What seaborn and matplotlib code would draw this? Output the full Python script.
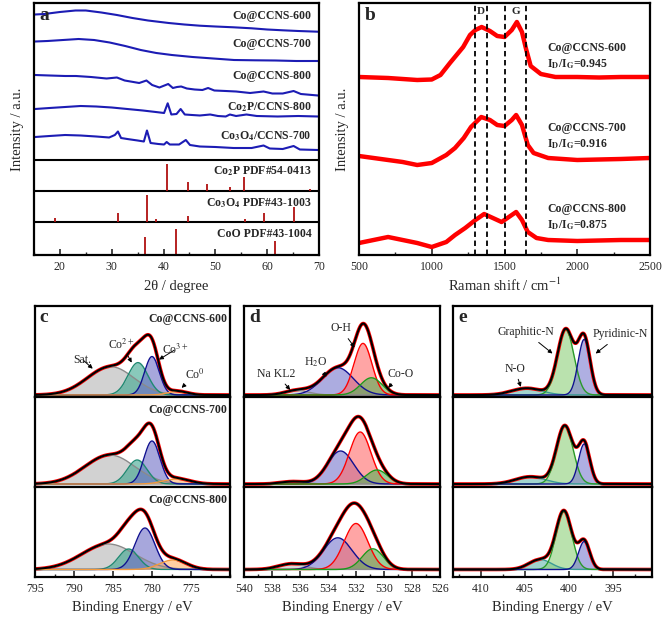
import numpy as np
import seaborn as sns
import matplotlib.pyplot as plt
from matplotlib.ticker import MultipleLocator, FixedLocator

# ---------------- panel a : XRD (2theta, stacked intensity / a.u.) ----------------
xrd_names = ['Co@CCNS-600', 'Co@CCNS-700', 'Co@CCNS-800',
             r'Co$_\mathbf{2}$P/CCNS-800', r'Co$_\mathbf{3}$O$_\mathbf{4}$/CCNS-700']
xrd_600_x = [15.2, 17, 20, 23, 25, 28, 31, 34, 37, 41, 44, 47, 50, 53.5, 57, 60, 63, 66, 69.8]
xrd_600_y = [240.5, 241, 243, 244.5, 244.5, 242.5, 240, 237, 234.5, 232, 230.5, 229.3, 228.5,
             227.7, 226.7, 225.5, 224.7, 224, 223.3]
xrd_700_x = [15.2, 17.6, 20.6, 23.6, 26.6, 29.6, 32.6, 35.6, 38.6, 41.6, 45.6, 49.6, 53.6,
             57.6, 61.6, 65.6, 69.8]
xrd_700_y = [213.5, 214, 215, 216, 215, 212.5, 209, 205, 202, 200, 198, 196.5, 195, 194.7,
             194.5, 194, 194]
xrd_800_x = [15.2, 18, 21, 23.1, 26, 29, 31, 32.5, 35.3, 36.7, 37.8, 39.2, 40.9, 41.8, 42.6,
             43.4, 44.5, 46, 47.5, 48.6, 49.8, 52, 54, 56.7, 59.3, 61, 63, 65.1, 66.5, 69.8]
xrd_800_y = [180, 179.5, 179, 179, 178, 176.5, 177.5, 174.5, 172, 174.5, 170, 167.5, 171, 167,
             168, 168.5, 166.5, 165.5, 165, 167, 164.5, 164, 163.5, 162, 163.5, 161.5, 161.5,
             164, 161, 159.5]
xrd_co2p_x = [15.2, 18, 21, 24, 27, 30, 33, 36, 38.5, 40.1, 40.8, 41.5, 42.5, 43.3, 44.1, 45.5,
              47, 49, 50.5, 52, 52.8, 54, 56, 58, 62, 66, 69.8]
xrd_co2p_y = [146, 147, 148, 149, 148.5, 147.5, 146, 144.5, 143, 142, 151.7, 140.5, 141, 146,
              140.5, 140, 139.5, 140.5, 139, 138.5, 140.5, 139, 140.5, 139, 138.5, 139, 138.5]
xrd_co3o4_x = [15.2, 18, 21, 24, 27, 29.5, 30.6, 31.2, 31.8, 33, 35, 36.2, 36.8, 37.5, 39, 40.1,
               40.6, 41.2, 43, 44.3, 45.1, 47, 50, 53.5, 57, 59.3, 60.5, 63, 65.1, 66.3, 69.8]
xrd_co3o4_y = [118, 119, 120, 119.5, 118.5, 117.5, 120, 123.5, 117, 116, 114.5, 113.5, 124.5,
               112, 111, 110.5, 113, 110.5, 110.5, 115, 110, 108.5, 108, 107, 107, 109.5,
               106.5, 106, 109, 105.5, 105]

# standard cards: 2theta and relative intensity (%)
ref_names = [r'Co$_\mathbf{2}$P PDF#54-0413', r'Co$_\mathbf{3}$O$_\mathbf{4}$ PDF#43-1003',
             'CoO PDF#43-1004']
co2p_pos = [40.7, 44.8, 48.4, 52.9, 55.6, 68.2]
co2p_int = [87, 28, 24, 14, 44, 6]
co3o4_pos = [19.0, 31.3, 36.8, 38.5, 44.8, 55.7, 59.4, 65.2]
co3o4_int = [12, 30, 86, 10, 18, 9, 29, 48]
coo_pos = [36.5, 42.4, 61.5]
coo_int = [58, 85, 46]

# ---------------- panel b : Raman (cm-1, stacked intensity / a.u.) ----------------
raman_names = ['Co@CCNS-600', 'Co@CCNS-700', 'Co@CCNS-800']
raman_ratio = ['0.945', '0.916', '0.875']
raman_600_x = [500, 600, 700, 800, 900, 1000, 1060, 1125, 1216, 1263, 1300, 1343, 1400, 1450,
               1500, 1550, 1585, 1620, 1650, 1680, 1750, 1850, 2000, 2150, 2300, 2500]
raman_600_y = [178, 177.5, 177, 176, 175, 175.5, 180, 192, 208, 220, 225, 228, 224, 219, 218,
               225, 233, 223, 205, 189, 181, 178, 178, 177.5, 178, 178]
raman_700_x = [500, 600, 700, 800, 900, 1000, 1100, 1160, 1220, 1270, 1340, 1400, 1450, 1500,
               1550, 1580, 1620, 1660, 1700, 1800, 2000, 2150, 2300, 2500]
raman_700_y = [99, 97, 95, 93, 90, 92, 100, 107, 117, 128, 138, 135, 130, 129, 135, 140, 130,
               110, 102, 97, 95, 95.5, 96, 97]
raman_800_x = [500, 600, 700, 800, 900, 1000, 1100, 1160, 1230, 1300, 1360, 1420, 1480, 1530,
               1580, 1620, 1660, 1720, 1800, 2000, 2150, 2300, 2500]
raman_800_y = [12, 15, 18, 15, 12, 8, 13, 20, 27, 35, 41, 37, 33, 38, 43, 35, 23, 17, 15, 14,
               14.5, 15, 15]
band_lines = [1300, 1380, 1500, 1650]

# ---------------- panels c-e : XPS fitted components (centre, height, FWHM) ----------------
xps_samples = ['Co@CCNS-600', 'Co@CCNS-700', 'Co@CCNS-800']
xps_base = [2, 3, 7.5]

co_center = [[785.3, 781.8, 780.0, 776.7], [785.4, 781.9, 780.0, 776.8], [785.6, 783.0, 780.9, 777.3]]
co_height = [[28, 32, 38, 3.5], [29, 24, 43, 5], [25.5, 20.5, 41.5, 9.5]]
co_fwhm = [[7, 3, 2.2, 3], [7.5, 3, 2.4, 4], [8, 3, 3, 4]]

o_center = [[536.2, 533.3, 531.5, 530.9], [536.5, 533.1, 531.7, 530.5], [536.6, 533.3, 532.0, 530.8]]
o_height = [[4.5, 27, 51, 17], [2.5, 33, 52, 14], [5.7, 31.7, 46, 20.7]]
o_fwhm = [[2, 2.6, 1.5, 1.8], [2, 2.2, 1.8, 1.8], [2.2, 2.4, 2.0, 1.8]]

n_center = [[404.8, 400.4, 398.3], [404.4, 400.5, 398.3], [403.3, 400.6, 398.3]]
n_height = [[6.7, 65, 55], [7.3, 58, 40], [10, 58, 28]]
n_fwhm = [[4, 2.2, 1.6], [4, 2.2, 1.5], [3, 2.1, 1.5]]

# ---------------- style ----------------
sns.set_theme(style='ticks')
plt.rcParams['font.family'] = ['Liberation Serif', 'DejaVu Serif']
plt.rcParams['mathtext.fontset'] = 'stix'
plt.rcParams['axes.linewidth'] = 1.6
plt.rcParams['xtick.direction'] = 'in'
plt.rcParams['xtick.major.width'] = 1.2
plt.rcParams['xtick.minor.width'] = 1.0

W, H = 663, 621
fig = plt.figure(figsize=(W / 100, H / 100), dpi=100)


def rect(x0, y0, x1, y1):
    return [x0 / W, 1 - y1 / H, (x1 - x0) / W, (y1 - y0) / H]


def style_ax(ax, labels=True):
    ax.set_yticks([])
    ax.tick_params(axis='x', which='major', length=4, labelsize=8.5, pad=4,
                   bottom=True, labelbottom=labels)
    ax.tick_params(axis='x', which='minor', length=2, bottom=True)
    for s in ax.spines.values():
        s.set_color('black')
        s.set_linewidth(1.6)


bold = dict(fontsize=8.5, fontweight='bold')

# ---- panel a ----
axa = fig.add_axes(rect(34, 3, 319, 255))
xrd = [(xrd_600_x, xrd_600_y), (xrd_700_x, xrd_700_y), (xrd_800_x, xrd_800_y),
       (xrd_co2p_x, xrd_co2p_y), (xrd_co3o4_x, xrd_co3o4_y)]
label_y = [239, 211, 179, 148, 119]
for (xs, ys), name, ly in zip(xrd, xrd_names, label_y):
    sns.lineplot(x=xs, y=ys, ax=axa, color='#1c1cb4', lw=1.5)
    axa.text(68.6, ly, name, ha='right', va='center', **bold)
for yb in [33, 64, 95]:
    axa.axhline(yb, color='black', lw=1.5)
refs = [(co2p_pos, co2p_int, 64), (co3o4_pos, co3o4_int, 33), (coo_pos, coo_int, 0)]
ref_y = [84, 52, 21]
for (pos, inten, base), name, ly in zip(refs, ref_names, ref_y):
    axa.vlines(pos, base, [base + 0.31 * v for v in inten], color='#b01010', lw=1.3)
    axa.text(68.6, ly, name, ha='right', va='center', **bold)
axa.set_xlim(15, 70)
axa.set_ylim(0, 252)
axa.xaxis.set_major_locator(MultipleLocator(10))
axa.xaxis.set_minor_locator(MultipleLocator(5))
style_ax(axa)
axa.set_xlabel('2θ / degree', fontsize=10.5, labelpad=5)
axa.set_ylabel('Intensity / a.u.', fontsize=10.5)
axa.yaxis.set_label_coords(-0.035, 0.5)
axa.text(0.02, 0.985, 'a', transform=axa.transAxes, va='top', fontsize=14, fontweight='bold')

# ---- panel b ----
axb = fig.add_axes(rect(359, 3, 650, 255))
raman = [(raman_600_x, raman_600_y), (raman_700_x, raman_700_y), (raman_800_x, raman_800_y)]
name_y = [207, 127, 46]
for (xs, ys), name, r, ny in zip(raman, raman_names, raman_ratio, name_y):
    sns.lineplot(x=xs, y=ys, ax=axb, color='#ff0000', lw=3.2)
    axb.text(1792, ny, name, ha='left', va='center', **bold)
    axb.text(1792, ny - 16, r'I$_\mathbf{D}$/I$_\mathbf{G}$=' + r, ha='left', va='center', **bold)
for xv in band_lines:
    axb.axvline(xv, color='black', lw=1.3, ls=(0, (3, 2)))
axb.text(1340, 244, 'D', ha='center', va='center', fontsize=8, fontweight='bold')
axb.text(1575, 244, 'G', ha='center', va='center', fontsize=8, fontweight='bold')
axb.set_xlim(500, 2500)
axb.set_ylim(0, 252)
axb.xaxis.set_major_locator(MultipleLocator(500))
axb.xaxis.set_minor_locator(MultipleLocator(250))
style_ax(axb)
axb.set_xlabel('Raman shift / cm$^{-1}$', fontsize=10.5, labelpad=3)
axb.set_ylabel('Intensity / a.u.', fontsize=10.5)
axb.yaxis.set_label_coords(-0.034, 0.5)
axb.text(0.02, 0.985, 'b', transform=axb.transAxes, va='top', fontsize=14, fontweight='bold')


# ---- XPS panels ----
def gauss(x, c, h, w):
    return h * np.exp(-4 * np.log(2) * (x - c) ** 2 / w ** 2)


rows = [(306, 397), (397, 487), (487, 577)]
panels = [
    dict(x0=35, x1=230, lim=(795, 770), ticks=[795, 790, 785, 780, 775], minor=2.5, tag='c',
         cen=co_center, hei=co_height, fw=co_fwhm,
         fills=['#b4b4b4', '#3aa58e', '#6d6dc6', '#ffb266'],
         edges=['#8a8a8a', '#1f8a72', '#101090', '#f39a3c'], names=True),
    dict(x0=244, x1=440, lim=(540, 526), ticks=list(range(540, 525, -2)), minor=1, tag='d',
         cen=o_center, hei=o_height, fw=o_fwhm,
         fills=['#c2c2c2', '#7676cc', '#ff6a6a', '#55b055'],
         edges=['#8a8a8a', '#101090', '#ff0000', '#1a9a1a'], names=False),
    dict(x0=453, x1=652, lim=(413.2, 390.6), ticks=[410, 405, 400, 395], minor=2.5, tag='e',
         cen=n_center, hei=n_height, fw=n_fwhm,
         fills=['#62b8ae', '#8ccf78', '#7a7ad0'],
         edges=['#3a9a96', '#2a9a2a', '#101090'], names=False),
]
panel_axes = []
for p in panels:
    axs = []
    for i, (y0, y1) in enumerate(rows):
        ax = fig.add_axes(rect(p['x0'], y0, p['x1'], y1))
        xs = np.linspace(min(p['lim']), max(p['lim']), 700)
        comps = [gauss(xs, c, h, w) for c, h, w in zip(p['cen'][i], p['hei'][i], p['fw'][i])]
        base = xps_base[i]
        env = base + np.sum(comps, axis=0)
        sns.lineplot(x=xs, y=env, ax=ax, color='#ff0000', lw=2.6)
        for g, fc, ec in zip(comps, p['fills'], p['edges']):
            ax.fill_between(xs, base, base + g, color=fc, alpha=0.6, lw=0)
            sns.lineplot(x=xs, y=base + g, ax=ax, color=ec, lw=1.0)
        sns.lineplot(x=xs, y=env, ax=ax, color='black', lw=1.5)
        ax.set_xlim(*p['lim'])
        ax.set_ylim(0, 90)
        ax.xaxis.set_major_locator(FixedLocator(p['ticks']))
        ax.xaxis.set_minor_locator(MultipleLocator(p['minor']))
        style_ax(ax, labels=(i == 2))
        if i < 2:
            ax.tick_params(axis='x', which='both', length=0)
        if p['names']:
            ax.text(0.985, 0.86, xps_samples[i], transform=ax.transAxes, ha='right',
                    va='center', **bold)
        axs.append(ax)
    axs[0].text(0.025, 0.97, p['tag'], transform=axs[0].transAxes, va='top',
                fontsize=14, fontweight='bold')
    axs[2].set_xlabel('Binding Energy / eV', fontsize=10.5, labelpad=5)
    panel_axes.append(axs)

arrow = dict(arrowstyle='-|>', color='black', lw=0.7, mutation_scale=6, shrinkA=1, shrinkB=0)
note = dict(fontsize=8.5, ha='center', va='center', arrowprops=arrow)
axc, axd, axe = panel_axes[0][0], panel_axes[1][0], panel_axes[2][0]
axc.annotate('Sat.', xy=(787.6, 28), xytext=(788.9, 37), **note)
axc.annotate('Co$^{2+}$', xy=(782.6, 34), xytext=(783.9, 52), **note)
axc.annotate('Co$^{3+}$', xy=(779.1, 37), xytext=(777.0, 47), **note)
axc.annotate('Co$^{0}$', xy=(776.2, 9), xytext=(774.5, 22), **note)
axd.annotate('Na KL2', xy=(536.7, 7), xytext=(537.7, 23), **note)
axd.annotate('H$_2$O', xy=(534.1, 20), xytext=(534.9, 34), **note)
axd.annotate('O-H', xy=(532.1, 49), xytext=(533.1, 68), **note)
axd.annotate('Co-O', xy=(529.7, 9), xytext=(528.8, 23), **note)
axe.annotate('Graphitic-N', xy=(401.9, 43), xytext=(404.9, 64), **note)
axe.annotate('Pyridinic-N', xy=(397.0, 43), xytext=(394.2, 62), **note)
axe.annotate('N-O', xy=(405.5, 10), xytext=(406.2, 28), **note)

fig.savefig('out.png', dpi=100)
